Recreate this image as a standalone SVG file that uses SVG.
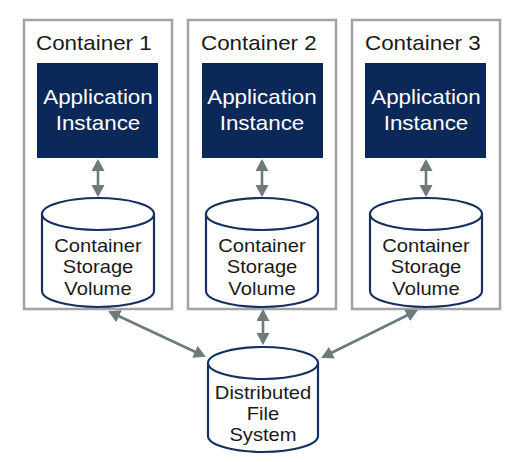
<svg xmlns="http://www.w3.org/2000/svg" width="520" height="462" viewBox="0 0 520 462">
<style>
.box{fill:#fff;stroke:#a3a3a3;stroke-width:2.5}
.app{fill:#0b2859}
.cyl{fill:#fff;stroke:#16305f;stroke-width:2.2}
.lbl{font-family:"Liberation Sans",Arial,sans-serif;font-size:20px;fill:#1a1a1a}
.wt{font-family:"Liberation Sans",Arial,sans-serif;font-size:20px;fill:#fff;text-anchor:middle}
.ct{font-family:"Liberation Sans",Arial,sans-serif;font-size:18px;fill:#1a1a1a;text-anchor:middle}
.arr{stroke:#6f7a7b;stroke-width:2.6;fill:none;marker-start:url(#ah);marker-end:url(#ah)}
</style>
<defs>
<marker id="ah" markerUnits="userSpaceOnUse" markerWidth="14" markerHeight="14" refX="10" refY="6.5" orient="auto-start-reverse">
<path d="M0,0 L12,6.5 L0,13 z" fill="#6f7a7b"/>
</marker>
</defs>

<g id="container1">
<rect class="box" x="24" y="20" width="148" height="289"/>
<text class="lbl" transform="translate(36,50) scale(1.12,1)">Container 1</text>
</g>
<g id="container2">
<rect class="box" x="188" y="20" width="148" height="289"/>
<text class="lbl" transform="translate(201,50) scale(1.12,1)">Container 2</text>
</g>
<g id="container3">
<rect class="box" x="352" y="20" width="148" height="289"/>
<text class="lbl" transform="translate(365,50) scale(1.12,1)">Container 3</text>
</g>

<g id="app1">
<rect class="app" x="37" y="63" width="121" height="95"/>
<text class="wt" transform="translate(98,104) scale(1.12,1)">Application</text>
<text class="wt" transform="translate(98,130) scale(1.12,1)">Instance</text>
</g>
<g id="app2">
<rect class="app" x="202" y="63" width="121" height="95"/>
<text class="wt" transform="translate(262,104) scale(1.12,1)">Application</text>
<text class="wt" transform="translate(262,130) scale(1.12,1)">Instance</text>
</g>
<g id="app3">
<rect class="app" x="365" y="63" width="121" height="95"/>
<text class="wt" transform="translate(426,104) scale(1.12,1)">Application</text>
<text class="wt" transform="translate(426,130) scale(1.12,1)">Instance</text>
</g>

<g id="vol1">
<path class="cyl" d="M42,214 A56,16 0 0 1 154,214 L154,291 A56,16 0 0 1 42,291 Z"/>
<path class="cyl" fill="none" d="M42,214 A56,16 0 0 0 154,214"/>
<text class="ct" transform="translate(98,252) scale(1.12,1)">Container</text>
<text class="ct" transform="translate(98,273) scale(1.12,1)">Storage</text>
<text class="ct" transform="translate(98,295) scale(1.12,1)">Volume</text>
</g>
<g id="vol2">
<path class="cyl" d="M206,214 A56,16 0 0 1 318,214 L318,291 A56,16 0 0 1 206,291 Z"/>
<path class="cyl" fill="none" d="M206,214 A56,16 0 0 0 318,214"/>
<text class="ct" transform="translate(262,252) scale(1.12,1)">Container</text>
<text class="ct" transform="translate(262,273) scale(1.12,1)">Storage</text>
<text class="ct" transform="translate(262,295) scale(1.12,1)">Volume</text>
</g>
<g id="vol3">
<path class="cyl" d="M370,214 A56,16 0 0 1 482,214 L482,291 A56,16 0 0 1 370,291 Z"/>
<path class="cyl" fill="none" d="M370,214 A56,16 0 0 0 482,214"/>
<text class="ct" transform="translate(426,252) scale(1.12,1)">Container</text>
<text class="ct" transform="translate(426,273) scale(1.12,1)">Storage</text>
<text class="ct" transform="translate(426,295) scale(1.12,1)">Volume</text>
</g>

<g id="dfs">
<path class="cyl" d="M208,363 A55,16 0 0 1 318,363 L318,436 A55,16 0 0 1 208,436 Z"/>
<path class="cyl" fill="none" d="M208,363 A55,16 0 0 0 318,363"/>
<text class="ct" transform="translate(263,399) scale(1.12,1)">Distributed</text>
<text class="ct" transform="translate(263,420) scale(1.12,1)">File</text>
<text class="ct" transform="translate(263,441) scale(1.12,1)">System</text>
</g>

<g id="connectors">
<line class="arr" x1="98" y1="161" x2="98" y2="195"/>
<line class="arr" x1="262" y1="161" x2="262" y2="195"/>
<line class="arr" x1="426" y1="161" x2="426" y2="195"/>
<line class="arr" x1="263" y1="311" x2="263" y2="343"/>
<line class="arr" x1="110" y1="312" x2="204" y2="356"/>
<line class="arr" x1="416" y1="311" x2="323" y2="357"/>
</g>
</svg>
